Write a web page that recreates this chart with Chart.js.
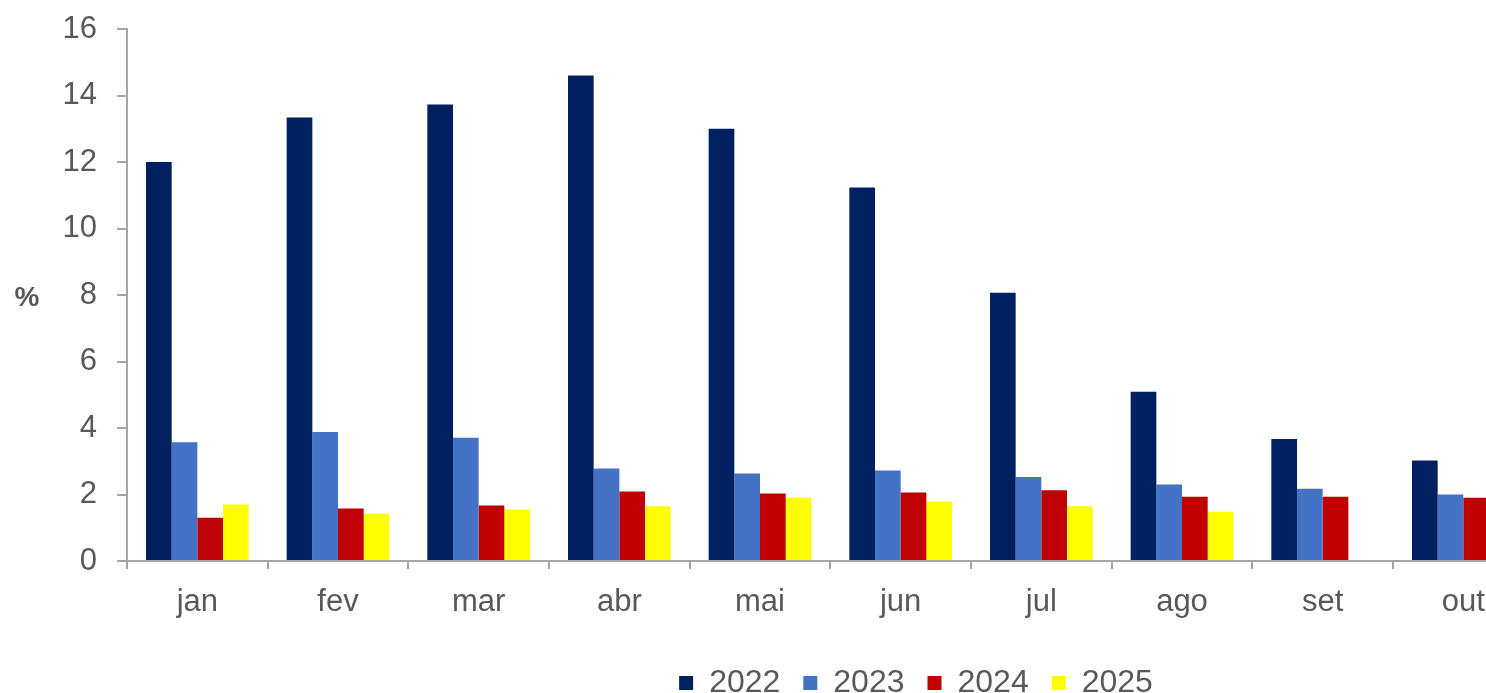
<!DOCTYPE html>
<html>
<head>
<meta charset="utf-8">
<script src="https://cdn.jsdelivr.net/npm/chart.js@4/dist/chart.umd.min.js"></script>
<style>
  html, body { margin: 0; padding: 0; background: #fff; overflow: hidden; }
  #wrap { position: relative; width: 1832px; height: 709px; }
</style>
</head>
<body>
<div id="wrap"><canvas id="infChart"></canvas></div>
<script>
// months (nov/dez fall outside the visible crop)
const months = ['jan', 'fev', 'mar', 'abr', 'mai', 'jun', 'jul', 'ago', 'set', 'out', 'nov', 'dez'];
const years = ['2022', '2023', '2024', '2025'];
const y2022 = [12.0, 13.34, 13.73, 14.6, 13.0, 11.23, 8.07, 5.09, 3.67, 3.02, null, null];
const y2023 = [3.57, 3.88, 3.71, 2.78, 2.63, 2.72, 2.53, 2.30, 2.17, 2.0, null, null];
const y2024 = [1.30, 1.58, 1.67, 2.09, 2.03, 2.06, 2.13, 1.93, 1.93, 1.90, null, null];
const y2025 = [1.70, 1.42, 1.55, 1.65, 1.90, 1.79, 1.65, 1.48, null, null, null, null];
const yTicks = [0, 2, 4, 6, 8, 10, 12, 14, 16];

const textGrey = '#595959';
const axisGrey = '#a6a6a6';

// "%" unit label, written horizontally left of the y axis
const unitLabel = {
    id: 'unitLabel',
    afterDraw(chart) {
        let c = chart.ctx;
        c.save();
        c.fillStyle = textGrey;
        c.font = 'bold 28px "Liberation Sans", Arial, sans-serif';
        c.textAlign = 'center';
        c.textBaseline = 'middle';
        c.fillText('%', 27, 298);
        c.restore();
    }
};

let ctx = document.getElementById('infChart').getContext('2d');
let myChart = new Chart(ctx, {
    type: 'bar',
    data: {
        labels: months,
        datasets: [
            { label: years[0], data: y2022, backgroundColor: '#002060' },
            { label: years[1], data: y2023, backgroundColor: '#4472C4' },
            { label: years[2], data: y2024, backgroundColor: '#C00000' },
            { label: years[3], data: y2025, backgroundColor: '#FFFF00' }
        ]
    },
    options: {
        responsive: true,
        maintainAspectRatio: false,
        animation: false,
        devicePixelRatio: 1,
        datasets: {
            bar: { categoryPercentage: 0.73, barPercentage: 1.0 }
        },
        layout: { padding: { left: 17, right: 17, top: 29, bottom: 0 } },
        plugins: {
            tooltip: { enabled: false },
            legend: {
                position: 'bottom',
                labels: {
                    color: textGrey,
                    boxWidth: 14,
                    boxHeight: 14,
                    padding: 23,
                    font: { family: '"Liberation Sans", Arial, sans-serif', size: 32 }
                }
            }
        },
        scales: {
            x: {
                afterFit: function (scale) { scale.height = 83; },
                grid: {
                    display: true,
                    drawOnChartArea: false,
                    drawTicks: true,
                    tickLength: 8,
                    color: axisGrey,
                    lineWidth: 2
                },
                border: { display: true, color: axisGrey, width: 2 },
                ticks: {
                    color: textGrey,
                    padding: 15,
                    maxRotation: 0,
                    font: { family: '"Liberation Sans", Arial, sans-serif', size: 31 }
                }
            },
            y: {
                min: 0,
                max: 16,
                afterFit: function (scale) {
                    scale.width = 110;
                    scale.paddingTop = 0;
                    scale.paddingBottom = 0;
                },
                afterBuildTicks: function (scale) {
                    scale.ticks = yTicks.map(v => ({ value: v }));
                },
                grid: {
                    display: true,
                    drawOnChartArea: false,
                    drawTicks: true,
                    tickLength: 10,
                    color: axisGrey,
                    lineWidth: 2
                },
                border: { display: true, color: axisGrey, width: 2 },
                ticks: {
                    color: textGrey,
                    padding: 20,
                    font: { family: '"Liberation Sans", Arial, sans-serif', size: 31 }
                }
            }
        }
    },
    plugins: [unitLabel]
});
</script>
</body>
</html>
